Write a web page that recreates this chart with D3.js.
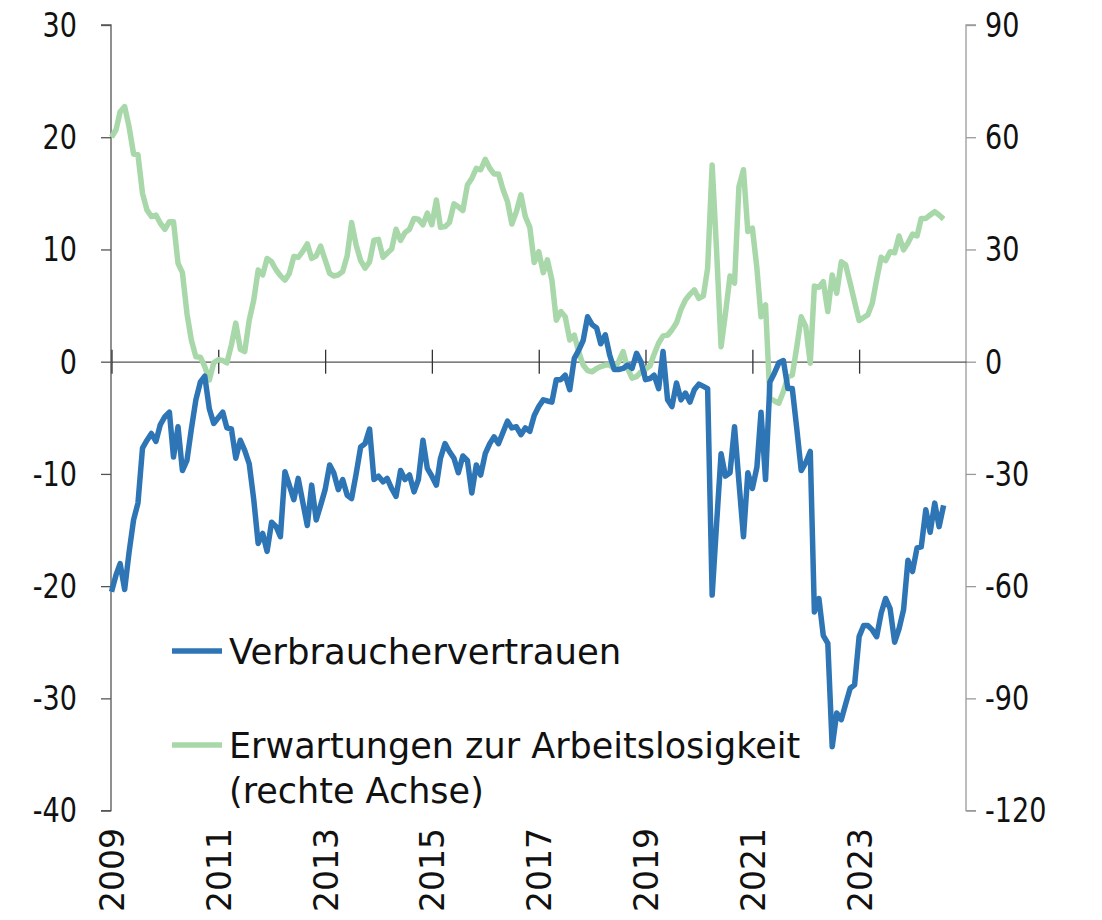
<!DOCTYPE html>
<html><head><meta charset="utf-8">
<script src="https://cdn.jsdelivr.net/npm/d3@7"></script>
<style>
html,body{margin:0;padding:0;background:#fff;}
svg{display:block;font-family:"DejaVu Sans",sans-serif;}
</style></head>
<body><svg id="c" width="1102" height="920"></svg>
<script>
// Monthly data from Jan 2009
const startYear = 2009;
const confidence = [
-20.5,-19.0,-18.0,-20.3,-17.0,-14.1,-12.6,-7.7,-7.0,-6.4,-7.1,-5.6,
-4.9,-4.5,-8.5,-5.8,-9.7,-8.8,-6.0,-3.4,-1.8,-1.3,-4.2,-5.5,
-5.0,-4.5,-5.9,-6.0,-8.6,-7.0,-7.9,-9.1,-12.3,-16.2,-15.3,-16.9,
-14.3,-14.7,-15.6,-9.8,-11.0,-12.3,-10.4,-12.5,-14.6,-11.0,-14.1,-12.8,
-11.4,-9.2,-9.9,-11.4,-10.5,-11.9,-12.2,-10.0,-7.6,-7.3,-6.0,-10.5,
-10.2,-10.7,-10.4,-11.3,-12.0,-9.7,-10.5,-10.1,-11.6,-10.5,-7.0,-9.5,
-10.2,-11.0,-8.6,-7.3,-8.0,-8.6,-9.9,-8.4,-8.8,-11.7,-9.2,-10.1,
-8.2,-7.3,-6.7,-7.3,-6.3,-5.3,-5.9,-5.8,-6.5,-5.9,-6.2,-4.8,
-4.0,-3.4,-3.5,-3.6,-1.6,-1.6,-1.2,-2.5,0.3,1.0,1.9,4.0,
3.3,3.0,1.6,2.4,0.6,-0.7,-0.7,-0.6,-0.3,-0.6,0.75,0.0,
-1.6,-1.5,-1.2,-2.4,0.9,-3.4,-4.0,-1.9,-3.4,-2.8,-3.6,-2.5,
-2.0,-2.2,-2.4,-20.8,-14.5,-8.2,-10.2,-9.9,-5.8,-10.7,-15.6,-9.9,
-11.3,-9.4,-4.5,-10.5,-1.8,-1.0,-0.1,0.1,-2.4,-2.4,-6.0,-9.7,
-9.0,-8.0,-22.3,-21.1,-24.4,-25.1,-34.3,-31.3,-31.9,-30.5,-29.1,-28.8,
-24.5,-23.5,-23.5,-23.9,-24.5,-22.4,-21.1,-22.0,-25.0,-23.8,-22.1,-17.7,
-18.7,-16.6,-16.5,-13.2,-15.2,-12.6,-14.7,-12.8
];
const unemploymentExp = [
60.0,62.0,66.8,68.2,62.8,55.5,55.3,45.0,40.5,38.8,39.2,37.0,
35.4,37.4,37.4,26.3,23.8,12.9,5.8,1.3,1.2,-1.3,-4.9,-0.3,
0.5,0.3,-0.3,4.5,10.3,3.3,2.7,11.1,16.5,24.5,23.2,27.6,
26.7,24.5,23.0,21.8,23.6,28.1,27.9,29.5,31.5,27.6,28.3,30.9,
27.2,23.6,22.9,23.2,24.1,28.3,37.2,31.2,27.0,25.0,26.7,32.5,
32.7,27.9,29.0,30.1,35.4,32.4,34.5,35.4,38.3,38.1,36.6,39.7,
36.6,43.2,35.9,36.1,37.2,42.2,41.4,40.4,47.2,49.0,51.7,51.3,
54.1,51.7,50.2,50.2,46.1,42.8,36.8,40.1,44.6,38.8,35.9,26.5,
29.4,23.8,27.2,21.8,11.1,13.4,12.0,5.8,7.1,2.7,-0.9,-2.4,
-2.7,-1.8,-1.3,-0.9,-0.9,-1.8,0.0,2.7,-1.8,-4.4,-4.0,-2.7,
-2.0,-1.1,2.0,5.0,6.9,7.1,8.5,10.4,14.0,16.5,18.0,19.2,
16.9,17.6,25.0,52.6,29.9,4.0,12.9,22.9,21.0,46.8,51.3,34.8,
35.7,25.0,12.0,15.2,-9.8,-10.5,-11.1,-8.0,-4.0,-3.6,4.0,12.0,
9.4,-0.4,20.2,19.9,21.4,13.4,23.2,18.3,26.7,25.9,21.0,16.0,
11.0,11.8,12.5,15.6,22.0,27.9,27.0,29.4,29.1,33.6,29.9,31.7,
34.1,33.6,38.3,38.3,39.2,40.1,39.2,38.1
];
const yearTicks = [2009,2011,2013,2015,2017,2019,2021,2023];
const leftTicks = [30,20,10,0,-10,-20,-30,-40];
const rightTicks = [90,60,30,0,-30,-60,-90,-120];
const seriesNames = ["Verbrauchervertrauen","Erwartungen zur Arbeitslosigkeit","(rechte Achse)"];

const svg = d3.select("#c");
const dateOf = i => new Date(startYear, i, 1);
const x = d3.scaleTime().domain([new Date(2009,0,1), new Date(2025,0,1)]).range([111.5, 966]);
const yL = d3.scaleLinear().domain([-40,30]).range([810.6,25]);
const yR = d3.scaleLinear().domain([-120,90]).range([810.6,25]);

const blue = "#2e75b6", green = "#a8d8a9";

// left axis
const gL = svg.append("g").attr("transform","translate(111,0)")
  .call(d3.axisLeft(yL).tickValues(leftTicks).tickSize(10).tickFormat(""));
gL.selectAll("path,line").attr("stroke","#555").attr("stroke-width",1.3);
gL.select(".domain").attr("d", `M-10,${yL(30)}H0V${yL(-40)}H-10`);
// right axis
const gR = svg.append("g").attr("transform","translate(966,0)")
  .call(d3.axisRight(yR).tickValues(rightTicks).tickSize(10).tickFormat(""));
gR.selectAll("path,line").attr("stroke","#9a9a9a").attr("stroke-width",1.3);
gR.select(".domain").attr("d", `M10,${yR(90)}H0V${yR(-120)}H10`);

// y tick labels (condensed look)
leftTicks.forEach(v=>{
  svg.append("text").attr("transform",`translate(77,${yL(v)}) scale(0.82,1)`)
    .attr("text-anchor","end").attr("dy","0.36em").attr("font-size",33).attr("fill","#111").text(v);
});
rightTicks.forEach(v=>{
  svg.append("text").attr("transform",`translate(985,${yR(v)}) scale(0.82,1)`)
    .attr("text-anchor","start").attr("dy","0.36em").attr("font-size",33).attr("fill","#111").text(v);
});

// zero line with crossing ticks
const gX = svg.append("g").attr("transform",`translate(0,${yL(0)})`)
  .call(d3.axisBottom(x).tickValues(yearTicks.map(y=>new Date(y,0,1))).tickSize(12).tickSizeOuter(0).tickFormat(""));
gX.selectAll("line").attr("y1",-12).attr("y2",12).attr("stroke","#333").attr("stroke-width",1.3);
gX.select(".domain").attr("stroke","#555").attr("stroke-width",1.3);

// x labels rotated
const gXL = svg.append("g").attr("transform","translate(0,828)")
  .call(d3.axisBottom(x).tickValues(yearTicks.map(y=>new Date(y,0,1))).tickSize(0).tickFormat(d3.timeFormat("%Y")));
gXL.select(".domain").remove();
gXL.selectAll("text").attr("font-size",33).attr("fill","#111").attr("font-family","DejaVu Sans")
  .attr("transform","rotate(-90)").attr("text-anchor","end").attr("x",0).attr("y",0).attr("dy","0.36em");

// lines
const lineB = d3.line().x((d,i)=>x(dateOf(i))).y(d=>yL(d)).curve(d3.curveLinear);
const lineG = d3.line().x((d,i)=>x(dateOf(i))).y(d=>yR(d)).curve(d3.curveLinear);
svg.append("path").datum(unemploymentExp).attr("d",lineG).attr("fill","none")
  .attr("stroke",green).attr("stroke-width",5.5).attr("stroke-linejoin","round");
svg.append("path").datum(confidence).attr("d",lineB).attr("fill","none")
  .attr("stroke",blue).attr("stroke-width",5.5).attr("stroke-linejoin","round");

// legend
const lg = svg.append("g");
lg.append("line").attr("x1",172).attr("x2",222).attr("y1",651).attr("y2",651).attr("stroke",blue).attr("stroke-width",5.5);
lg.append("text").attr("x",229).attr("y",664).attr("font-size",35.5).attr("fill","#111").text(seriesNames[0]);
lg.append("line").attr("x1",172).attr("x2",222).attr("y1",745).attr("y2",745).attr("stroke",green).attr("stroke-width",5.5);
lg.append("text").attr("x",229).attr("y",758).attr("font-size",35).attr("fill","#111").text(seriesNames[1]);
lg.append("text").attr("x",229).attr("y",803).attr("font-size",35).attr("fill","#111").text(seriesNames[2]);
</script></body></html>
